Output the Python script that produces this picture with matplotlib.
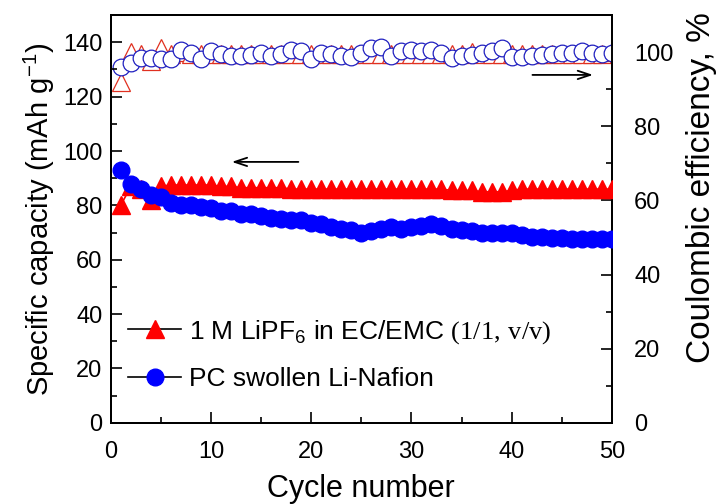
import matplotlib
matplotlib.use('Agg')
import matplotlib.pyplot as plt
import numpy as np
from matplotlib.ticker import MultipleLocator

plt.rcParams['font.family'] = 'Liberation Sans'
plt.rcParams['mathtext.fontset'] = 'custom'
plt.rcParams['mathtext.rm'] = 'Liberation Sans'
plt.rcParams['mathtext.it'] = 'Liberation Sans:italic'
plt.rcParams['mathtext.cal'] = 'Liberation Serif'

cycles = np.arange(1, 51)

# discharge capacity, mAh/g (left axis)
cap_lipf6 = [80, 87, 86, 82, 87, 87.5, 87.5, 87.5, 87.5, 87.5,
             87, 87, 86.5, 86.5, 86.5, 86.5, 86.5, 86, 86, 86,
             86, 86, 86, 86, 86, 86, 86, 86, 86, 86,
             86, 86, 86, 85.5, 85.5, 85.5, 85, 85, 85, 85.5,
             86, 86, 86, 86, 86, 86, 86, 86, 86, 86]
cap_nafion = [93, 88, 86, 84, 83, 81, 80, 80, 79.5, 79,
              78, 78, 77, 77, 76, 75.5, 75, 74.5, 74.5, 73.5,
              73, 72, 71.5, 71, 70, 70.5, 71.5, 72, 71.5, 72,
              72.5, 73, 72.5, 71.5, 71, 70.5, 70, 70, 70, 70,
              69, 68.5, 68.5, 68, 68, 67.5, 67.5, 67.5, 67.5, 67.5]

# coulombic efficiency, % (right axis)
ce_lipf6 = [92, 100, 99.5, 97.5, 101, 99.5, 100, 99.5, 99.5, 99.5,
            99.5, 99.5, 99.5, 99.5, 99.5, 99.5, 99.5, 99.5, 99.5, 99.5,
            99.5, 99.5, 99.5, 99.5, 99.5, 99.5, 99.5, 99.5, 99.5, 99.5,
            99.5, 99.5, 99.5, 99.5, 99.5, 100, 99.5, 99.5, 99.5, 99.5,
            99.5, 99.5, 99.5, 99.5, 99.5, 99.5, 99.5, 99.5, 99.5, 100]
ce_nafion = [95.9, 97.0, 98.3, 98.3, 98.1, 98.1, 100.6, 99.9, 98.1, 100.4,
             99.6, 98.9, 99.1, 99.3, 99.9, 99.1, 99.6, 100.6, 100.2, 98.1,
             99.9, 99.5, 99.1, 98.7, 99.9, 101.0, 101.3, 98.9, 100.4, 100.6,
             100.4, 100.6, 99.8, 98.3, 99.1, 99.3, 99.8, 100.4, 101.0, 98.6,
             98.6, 99.1, 99.3, 99.5, 99.9, 99.9, 100.2, 99.9, 99.5, 99.9]

fig = plt.figure(figsize=(7.19, 5.04), dpi=100)
ax = fig.add_axes([0.154, 0.161, 0.697, 0.809])
ax2 = ax.twinx()

ax2.plot(cycles, ce_lipf6, '-', color='#e03020', lw=1.2, marker='^', ms=13,
         mfc='white', mec='#e03020', mew=0.9, zorder=2)
ax2.plot(cycles, ce_nafion, '-', color='#2020c0', lw=1.0, marker='o', ms=12,
         mfc='white', mec='#2020c0', mew=0.9, zorder=3)

l1, = ax.plot(cycles, cap_lipf6, '-', color='red', lw=1.2, marker='^', ms=13,
              mfc='red', mec='red', zorder=3,
              label='1 M LiPF$_6$ in EC/EMC $\\mathcal{(1/1,\\,v/v)}$')
l2, = ax.plot(cycles, cap_nafion, '-', color='blue', lw=1.2, marker='o', ms=12,
              mfc='blue', mec='blue', zorder=4, label='PC swollen Li-Nafion')
ax.set_zorder(ax2.get_zorder() + 1)
ax.patch.set_visible(False)

leg = ax.legend(handles=[l1, l2], loc='lower left', bbox_to_anchor=(-0.012, 0.02),
                frameon=False, fontsize=19, handlelength=2.0, handletextpad=0.3,
                labelspacing=0.8)
for line in leg.get_lines():
    line.set_color('black')
    line.set_linewidth(1.2)

ax.set_xlim(0, 50)
ax.set_ylim(0, 150)
ax2.set_ylim(0, 110)
ax.xaxis.set_major_locator(MultipleLocator(10))
ax.xaxis.set_minor_locator(MultipleLocator(5))
ax.yaxis.set_major_locator(MultipleLocator(20))
ax.yaxis.set_minor_locator(MultipleLocator(10))
ax2.yaxis.set_major_locator(MultipleLocator(20))
ax2.yaxis.set_minor_locator(MultipleLocator(10))

for a in (ax, ax2):
    a.tick_params(which='major', direction='in', length=8, width=1.2, labelsize=17, pad=6)
    a.tick_params(which='minor', direction='in', length=4.5, width=1.2)
    for s in a.spines.values():
        s.set_linewidth(1.4)
ax.tick_params(axis='y', which='both', right=False)
ax.tick_params(axis='x', which='both', top=False)
ax.tick_params(axis='x', which='major', pad=13)
ax2.tick_params(axis='y', which='major', pad=16)

ax.set_xlabel('Cycle number', fontsize=22, labelpad=8)
ax.set_ylabel('Specific capacity (mAh g$^{-1}$)', fontsize=21, labelpad=4)
ax2.set_ylabel('Coulombic efficiency, %', fontsize=24)
ax2.yaxis.set_label_coords(1.148, 0.576)

# arrows pointing to the axis each series belongs to
ax.annotate('', xy=(11.8, 96), xytext=(19, 96),
            arrowprops=dict(arrowstyle='->,head_length=0.9,head_width=0.3', color='black', lw=1.3))
ax.annotate('', xy=(48.4, 128), xytext=(41.8, 128),
            arrowprops=dict(arrowstyle='->,head_length=0.9,head_width=0.3', color='black', lw=1.3))

fig.savefig('out.png', dpi=100)
